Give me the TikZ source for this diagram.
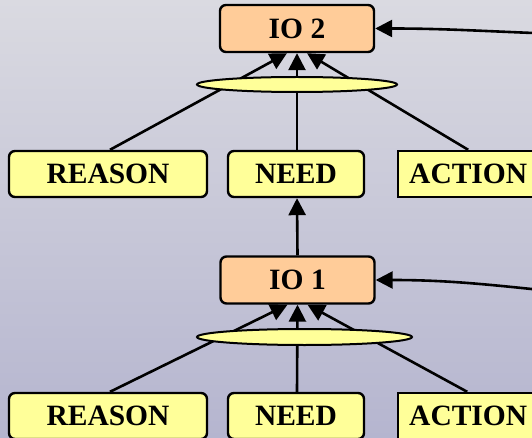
\documentclass[tikz,border=0pt]{standalone}
\usepackage{fontspec}
\setmainfont{Liberation Serif}
\usetikzlibrary{arrows.meta,positioning,shapes.geometric}
\definecolor{iofill}{HTML}{FFCC99}
\definecolor{boxfill}{HTML}{FFFF99}
\definecolor{bgtop}{HTML}{DADAE1}
\definecolor{bgbottom}{HTML}{B5B5CF}

\begin{document}
\begin{tikzpicture}[
  x=1pt, y=-1pt,
  io/.style={draw, fill=iofill, rounded corners=6pt, line width=2.4pt, minimum width=154pt, minimum height=47pt, font=\fontsize{29.5}{30}\selectfont\bfseries},
  box/.style={draw, fill=boxfill, rounded corners=6pt, line width=2.4pt, minimum height=46pt, font=\fontsize{29.5}{30}\selectfont\bfseries},
  actbox/.style={draw, fill=boxfill, line width=2.4pt, minimum height=46pt, text width=138pt, inner xsep=11pt, align=left, anchor=west, font=\fontsize{29.5}{30}\selectfont\bfseries},
  andjoin/.style={draw, fill=boxfill, ellipse, line width=2pt, inner sep=0pt},
  arrow/.style={-{Triangle[length=17pt,width=17pt]}, line width=2.6pt}
]
\shade[top color=bgtop, bottom color=bgbottom] (0,0) rectangle (532,438);
\useasboundingbox (0,0) rectangle (532,438);
\clip (0,0) rectangle (532,438);

% upper level
\node[io] (io2) at (297,28.5) {IO 2};
\node[box, minimum width=198pt] (reason2) at (108,174) {REASON};
\node[box, minimum width=136pt] (need2) at (296,174) {NEED};
\node[actbox] (action2) at (397,174) {ACTION};

% lower level
\node[io] (io1) at (297.5,280) {IO 1};
\node[box, minimum width=198pt] (reason1) at (108,416) {REASON};
\node[box, minimum width=136pt] (need1) at (296,416) {NEED};
\node[actbox] (action1) at (397,416) {ACTION};

\coordinate (in2) at (560,34);
\coordinate (in1) at (560,292);

\draw[arrow] ([xshift=2pt]reason2.north) -- ([xshift=-10pt]io2.south);
\draw[arrow] ([xshift=1pt]need2.north) -- (io2.south);
\draw[arrow] ([xshift=-10pt]action2.north) -- ([xshift=10pt]io2.south);
\draw[arrow] (io1.north) -- ([xshift=1pt]need2.south);
\draw[arrow] ([xshift=2pt]reason1.north) -- ([xshift=-10pt]io1.south);
\draw[arrow] ([xshift=1pt]need1.north) -- (io1.south);
\draw[arrow] ([xshift=-11pt]action1.north) -- ([xshift=10pt]io1.south);
\draw[arrow] (in2) to[out=178, in=0] (io2.east);
\draw[arrow] (in1) to[out=174, in=0] (io1.east);

% and-joins over the lines
\node[andjoin, minimum width=200pt, minimum height=15pt] (and2) at (297,84.5) {};
\node[andjoin, minimum width=215pt, minimum height=16pt] (and1) at (304.5,337) {};
\end{tikzpicture}
\end{document}
